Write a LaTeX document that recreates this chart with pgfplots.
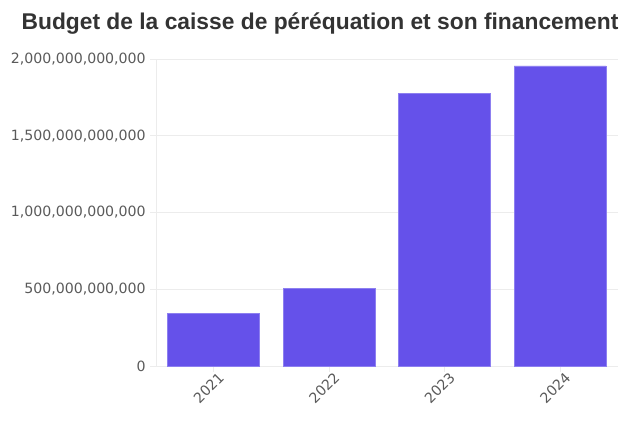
\documentclass[border=0pt]{standalone}
\usepackage{fontspec}
\setmainfont{DejaVu Sans}
\newfontfamily\titlefont{Liberation Sans}
\usepackage{pgfplots}
\pgfplotsset{compat=1.18}

\definecolor{barfill}{HTML}{6551EA}
\definecolor{baredge}{HTML}{8D7FF0}
\definecolor{gridgray}{HTML}{ECECEC}
\definecolor{ticktext}{HTML}{5A5A5A}
\definecolor{titletext}{HTML}{333333}

\begin{document}
\begin{tikzpicture}[x=1pt,y=1pt]
% page frame: 640x425 px at 0.75pt per px, plot area at its lower left corner
\useasboundingbox (-117,-44.25) rectangle (363,274.5);
\begin{axis}[
    at={(0,0)}, anchor=south west,
    scale only axis,
    width=346.5pt, height=230.25pt,
    xmin=-0.5, xmax=3.5,
    ymin=0, ymax=2000000000000,
    xtick={0,1,2,3},
    xticklabels={2021,2022,2023,2024},
    ytick={0,500000000000,1000000000000,1500000000000,2000000000000},
    yticklabels={0,{500,000,000,000},{1,000,000,000,000},{1,500,000,000,000},{2,000,000,000,000}},
    scaled y ticks=false,
    ymajorgrids,
    grid style={gridgray, line width=0.6pt},
    axis line style={gridgray, line width=0.6pt},
    axis x line*=bottom, axis y line*=left,
    x axis line style={-}, y axis line style={-},
    tick style={gridgray, line width=0.6pt},
    tick align=outside,
    major tick length=4.5pt,
    tick label style={font=\fontsize{10.6}{12}\selectfont, text=ticktext},
    x tick label style={rotate=45, anchor=north east, inner sep=0.5pt, xshift=3pt, yshift=-1pt},
    yticklabel style={inner sep=2pt, xshift=-1pt},
    clip=false,
]
\addplot[ybar, bar width=69pt, fill=barfill, draw=baredge, line width=0.5pt] coordinates {
    (0, 342000000000)
    (1, 505000000000)
    (2, 1778000000000)
    (3, 1955000000000)
};
\end{axis}
\node[anchor=base, text=titletext, font=\titlefont\bfseries\fontsize{17.1}{20}\selectfont]
    at (123,252.5) {Budget de la caisse de péréquation et son financement};
\end{tikzpicture}
\end{document}
